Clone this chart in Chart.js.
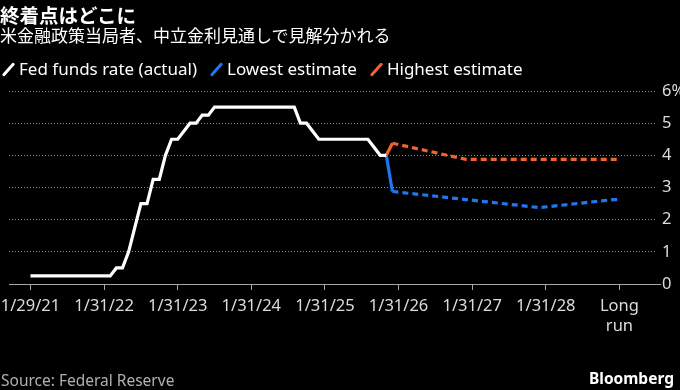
<!DOCTYPE html>
<html>
<head>
<meta charset="utf-8">
<script src="https://cdn.jsdelivr.net/npm/chart.js@4"></script>
<style>
  html, body { margin: 0; padding: 0; background: #000; }
  #wrap { position: relative; width: 680px; height: 390px; overflow: hidden; background: #000; font-family: "Noto Sans", "Noto Sans CJK JP", sans-serif; color: #fff; }
  #chart { position: absolute; left: 0; top: 0; }
  .title { position: absolute; left: 0; top: 2px; font: bold 19.5px/25px "Noto Sans CJK JP", sans-serif; }
  .subtitle { position: absolute; left: 0; top: 24px; font: 17px/22px "Noto Sans CJK JP", sans-serif; }
  #legend { position: absolute; left: 2px; top: 58px; display: flex; font: 17px/22px "Noto Sans", sans-serif; }
  .item { display: flex; align-items: center; margin-right: 13px; }
  .swatch { width: 3px; height: 17px; border-radius: 2px; transform: rotate(42deg); margin: 0 9px 0 5px; }
  .source { position: absolute; left: 1px; top: 369px; font: 15.5px/22px "Noto Sans", sans-serif; color: #b0b0b0; }
  .logo { position: absolute; right: 6px; top: 367px; font: bold 15.5px/22px "Noto Sans", sans-serif; }
</style>
</head>
<body>
<div id="wrap">
  <canvas id="chart" width="680" height="390"></canvas>
  <div class="title">終着点はどこに</div>
  <div class="subtitle">米金融政策当局者、中立金利見通しで見解分かれる</div>
  <div id="legend"></div>
  <div class="source">Source: Federal Reserve</div>
  <div class="logo">Bloomberg</div>
</div>
<script>
// Fed funds upper bound, month-end, one value per month starting 1/29/21 (month 0)
const fedRate = [
  0.25, 0.25, 0.25, 0.25, 0.25, 0.25, 0.25, 0.25, 0.25, 0.25, 0.25, 0.25, // 2021
  0.25, 0.25, 0.5, 0.5, 1.0, 1.75, 2.5, 2.5, 3.25, 3.25, 4.0, 4.5,          // 2022
  4.5, 4.75, 5.0, 5.0, 5.25, 5.25, 5.5, 5.5, 5.5, 5.5, 5.5, 5.5,            // 2023
  5.5, 5.5, 5.5, 5.5, 5.5, 5.5, 5.5, 5.5, 5.0, 5.0, 4.75, 4.5,              // 2024
  4.5, 4.5, 4.5, 4.5, 4.5, 4.5, 4.5, 4.5, 4.25, 4.0, 4.0                    // 2025
];

// Projections: start at last actual, then year-end 2025..2028, long run
const projMonths = [58, 59, 71, 83, 95, 96];
const lowestEstimate = [4.0, 2.875, 2.625, 2.375, 2.625, 2.625];
const highestEstimate = [4.0, 4.375, 3.875, 3.875, 3.875, 3.875];

const tickMonths = [0, 12, 24, 36, 48, 60, 72, 84, 96];
const tickLabels = ["1/29/21", "1/31/22", "1/31/23", "1/31/24", "1/31/25", "1/31/26", "1/31/27", "1/31/28", ["Long", "run"]];

const seriesNames = ["Fed funds rate (actual)", "Lowest estimate", "Highest estimate"];
const seriesColors = ["#ffffff", "#1f78f2", "#f4622d"];

const gridGrey = "#8a8a8a";
const axisGrey = "#a8a8a8";
const labelGrey = "#dcdcdc";

// legend
const legend = document.getElementById("legend");
seriesNames.forEach((name, i) => {
  const item = document.createElement("div");
  item.className = "item";
  item.innerHTML = `<span class="swatch" style="background:${seriesColors[i]}"></span><span>${name}</span>`;
  legend.appendChild(item);
});

// first projection segment (from last actual) is solid, the rest dashed
const projDash = (ctx) => (ctx.p0DataIndex === 0 ? [] : [6, 4]);

Chart.defaults.font.family = "'Noto Sans', sans-serif";

new Chart(document.getElementById("chart"), {
  type: "line",
  data: {
    datasets: [
      {
        label: seriesNames[0],
        data: fedRate.map((v, i) => ({ x: i, y: v })),
        borderColor: seriesColors[0],
        borderWidth: 3.2,
        pointRadius: 0,
        tension: 0,
      },
      {
        label: seriesNames[1],
        data: projMonths.map((m, i) => ({ x: m, y: lowestEstimate[i] })),
        borderColor: seriesColors[1],
        borderWidth: 3.2,
        pointRadius: 0,
        tension: 0,
        segment: { borderDash: projDash },
      },
      {
        label: seriesNames[2],
        data: projMonths.map((m, i) => ({ x: m, y: highestEstimate[i] })),
        borderColor: seriesColors[2],
        borderWidth: 3.2,
        pointRadius: 0,
        tension: 0,
        segment: { borderDash: projDash },
      },
    ],
  },
  options: {
    responsive: false,
    animation: false,
    devicePixelRatio: 1,
    layout: { padding: { top: 91, left: 9, right: 0, bottom: 56 } },
    plugins: {
      legend: { display: false },
      tooltip: { enabled: false },
    },
    scales: {
      x: {
        type: "linear",
        min: -3.5,
        max: 101.8,
        afterBuildTicks: (scale) => {
          scale.ticks = tickMonths.map((v) => ({ value: v }));
        },
        afterFit: (scale) => {
          scale.height = 50;
          scale.paddingLeft = 0;
          scale.paddingRight = 0;
        },
        grid: {
          drawOnChartArea: false,
          drawTicks: true,
          tickLength: 6,
          tickColor: axisGrey,
        },
        border: { display: true, color: axisGrey, width: 1 },
        ticks: {
          autoSkip: false,
          maxRotation: 0,
          padding: 6,
          color: labelGrey,
          font: { size: 16.5, lineHeight: 1.22 },
          callback: (value, index) => tickLabels[index],
        },
      },
      y: {
        position: "right",
        min: 0,
        max: 6,
        afterFit: (scale) => {
          scale.width = 25;
        },
        grid: {
          color: (ctx) => (ctx.tick && ctx.tick.value === 0 ? axisGrey : gridGrey),
          lineWidth: 1,
          drawTicks: true,
          tickLength: 6,
          tickColor: (ctx) => (ctx.tick && ctx.tick.value === 0 ? axisGrey : "rgba(0,0,0,0)"),
        },
        border: {
          display: false,
          dash: (ctx) => (ctx.tick && ctx.tick.value === 0 ? [] : [1, 2]),
        },
        ticks: {
          stepSize: 1,
          padding: 1,
          color: labelGrey,
          font: { size: 16.5 },
          callback: (value) => (value === 6 ? "6%" : value),
        },
      },
    },
  },
});
</script>
</body>
</html>
